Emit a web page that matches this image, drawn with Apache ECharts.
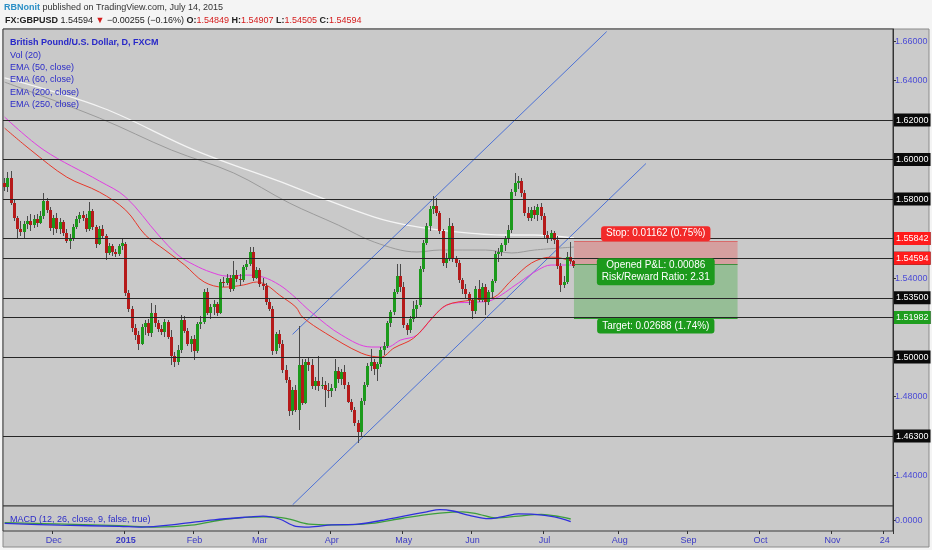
<!DOCTYPE html>
<html><head><meta charset="utf-8">
<script src="https://cdn.jsdelivr.net/npm/echarts@6/dist/echarts.min.js"></script>
<style>html,body{margin:0;padding:0;background:#f4f4f4;}#c{width:932px;height:550px;}</style>
</head><body><div id="c"></div>
<script>
// ---------- calendar ----------
const firstDay = [2014, 10, 10];          // 10 Nov 2014 (month 0-based)
const barCount = 272;
const holidays = ['2014-12-25', '2015-01-01'];
const axisMarks = {
  '2014-12-01': 'Dec', '2015-01-02': '2015', '2015-02-02': 'Feb', '2015-03-02': 'Mar',
  '2015-04-01': 'Apr', '2015-05-01': 'May', '2015-06-01': 'Jun', '2015-07-01': 'Jul',
  '2015-08-03': 'Aug', '2015-09-01': 'Sep', '2015-10-01': 'Oct', '2015-11-02': 'Nov',
  '2015-11-24': '24'
};
// ---------- daily candles [open, close, low, high] from 10 Nov 2014 ----------
const ohlc = [
[1.5880,1.5862,1.5842,1.5905],[1.5862,1.5908,1.5835,1.5935],[1.5908,1.5782,1.5770,1.5940],[1.5782,1.5705,1.5690,1.5795],
[1.5705,1.5648,1.5600,1.5712],[1.5648,1.5632,1.5612,1.5690],[1.5632,1.5675,1.5598,1.5690],[1.5675,1.5690,1.5650,1.5712],
[1.5690,1.5668,1.5640,1.5725],[1.5668,1.5700,1.5655,1.5718],[1.5700,1.5680,1.5660,1.5722],[1.5680,1.5712,1.5672,1.5740],
[1.5712,1.5788,1.5700,1.5830],[1.5788,1.5745,1.5730,1.5805],[1.5745,1.5652,1.5640,1.5760],[1.5652,1.5705,1.5620,1.5718],
[1.5705,1.5650,1.5628,1.5728],[1.5650,1.5685,1.5622,1.5702],[1.5685,1.5628,1.5612,1.5695],[1.5628,1.5590,1.5578,1.5648],
[1.5590,1.5600,1.5545,1.5625],[1.5600,1.5660,1.5588,1.5672],[1.5660,1.5698,1.5648,1.5712],[1.5698,1.5718,1.5680,1.5735],
[1.5718,1.5705,1.5690,1.5740],[1.5705,1.5650,1.5635,1.5725],[1.5650,1.5742,1.5640,1.5787],[1.5742,1.5660,1.5645,1.5752],
[1.5660,1.5575,1.5552,1.5668],[1.5575,1.5650,1.5568,1.5665],[1.5650,1.5612,1.5598,1.5668],[1.5612,1.5525,1.5492,1.5622],
[1.5525,1.5560,1.5515,1.5578],[1.5560,1.5530,1.5512,1.5572],[1.5530,1.5522,1.5505,1.5548],[1.5522,1.5560,1.5512,1.5575],
[1.5560,1.5578,1.5540,1.5602],[1.5575,1.5325,1.5310,1.5585],[1.5325,1.5245,1.5230,1.5340],[1.5245,1.5148,1.5125,1.5260],
[1.5148,1.5110,1.5085,1.5165],[1.5110,1.5068,1.5035,1.5130],[1.5068,1.5150,1.5060,1.5165],[1.5150,1.5175,1.5110,1.5190],
[1.5175,1.5120,1.5105,1.5195],[1.5120,1.5225,1.5100,1.5272],[1.5225,1.5170,1.5150,1.5265],[1.5170,1.5140,1.5125,1.5190],
[1.5140,1.5125,1.5110,1.5160],[1.5125,1.5178,1.5100,1.5195],[1.5178,1.5100,1.5090,1.5190],[1.5100,1.5005,1.4962,1.5135],
[1.5005,1.4975,1.4951,1.5025],[1.4975,1.5035,1.4960,1.5060],[1.5035,1.5190,1.5020,1.5215],[1.5190,1.5130,1.5120,1.5210],
[1.5130,1.5065,1.5055,1.5145],[1.5065,1.5090,1.5025,1.5105],[1.5090,1.5030,1.4985,1.5110],[1.5030,1.5165,1.5020,1.5180],
[1.5165,1.5180,1.5140,1.5210],[1.5180,1.5330,1.5165,1.5345],[1.5330,1.5225,1.5215,1.5350],[1.5225,1.5255,1.5195,1.5270],
[1.5255,1.5270,1.5215,1.5290],[1.5270,1.5225,1.5210,1.5280],[1.5225,1.5380,1.5220,1.5395],[1.5380,1.5375,1.5355,1.5405],
[1.5375,1.5400,1.5365,1.5420],[1.5400,1.5345,1.5330,1.5415],[1.5345,1.5415,1.5335,1.5485],[1.5415,1.5395,1.5380,1.5440],
[1.5395,1.5388,1.5360,1.5420],[1.5388,1.5455,1.5378,1.5465],[1.5455,1.5470,1.5440,1.5490],[1.5470,1.5530,1.5460,1.5556],
[1.5530,1.5400,1.5385,1.5555],[1.5400,1.5440,1.5395,1.5455],[1.5440,1.5370,1.5355,1.5450],[1.5370,1.5360,1.5340,1.5400],
[1.5360,1.5280,1.5265,1.5375],[1.5280,1.5245,1.5235,1.5300],[1.5245,1.5030,1.5010,1.5260],[1.5030,1.5115,1.5015,1.5125],
[1.5115,1.5065,1.5045,1.5135],[1.5065,1.4935,1.4920,1.5085],[1.4935,1.4885,1.4870,1.4960],[1.4885,1.4725,1.4700,1.4900],
[1.4725,1.4835,1.4705,1.4850],[1.4835,1.4730,1.4720,1.4860],[1.4730,1.4960,1.4633,1.5155],[1.4960,1.4770,1.4755,1.4990],
[1.4770,1.4975,1.4760,1.4990],[1.4975,1.4960,1.4930,1.5000],[1.4960,1.4855,1.4840,1.4990],[1.4855,1.4880,1.4835,1.4900],
[1.4880,1.4855,1.4830,1.5005],[1.4855,1.4860,1.4840,1.4900],[1.4860,1.4835,1.4745,1.4880],[1.4835,1.4830,1.4795,1.4870],
[1.4830,1.4845,1.4800,1.4865],[1.4845,1.4930,1.4830,1.4990],[1.4930,1.4890,1.4870,1.4950],[1.4890,1.4925,1.4860,1.4940],
[1.4925,1.4860,1.4840,1.4960],[1.4860,1.4775,1.4765,1.4875],[1.4775,1.4730,1.4720,1.4790],[1.4730,1.4665,1.4650,1.4745],
[1.4665,1.4620,1.4566,1.4680],[1.4620,1.4780,1.4600,1.4795],[1.4780,1.4860,1.4755,1.4875],[1.4860,1.4955,1.4850,1.4970],
[1.4955,1.4975,1.4930,1.5040],[1.4975,1.4940,1.4910,1.4990],[1.4940,1.4965,1.4880,1.4975],[1.4965,1.5035,1.4950,1.5050],
[1.5035,1.5055,1.5010,1.5075],[1.5055,1.5170,1.5045,1.5185],[1.5170,1.5230,1.5150,1.5240],[1.5230,1.5330,1.5215,1.5345],
[1.5330,1.5410,1.5320,1.5470],[1.5410,1.5355,1.5330,1.5470],[1.5355,1.5160,1.5145,1.5380],[1.5160,1.5135,1.5110,1.5175],
[1.5135,1.5195,1.5120,1.5210],[1.5195,1.5245,1.5180,1.5285],[1.5245,1.5265,1.5205,1.5290],[1.5265,1.5445,1.5255,1.5460],
[1.5445,1.5580,1.5430,1.5595],[1.5580,1.5665,1.5565,1.5680],[1.5665,1.5750,1.5640,1.5765],[1.5750,1.5765,1.5725,1.5815],
[1.5765,1.5730,1.5715,1.5805],[1.5730,1.5640,1.5625,1.5740],[1.5640,1.5475,1.5460,1.5650],[1.5475,1.5495,1.5450,1.5525],
[1.5495,1.5665,1.5485,1.5705],[1.5665,1.5500,1.5480,1.5680],[1.5500,1.5475,1.5455,1.5510],[1.5475,1.5390,1.5375,1.5490],
[1.5390,1.5345,1.5320,1.5400],[1.5345,1.5320,1.5300,1.5370],[1.5320,1.5290,1.5265,1.5330],[1.5290,1.5235,1.5192,1.5300],
[1.5235,1.5345,1.5220,1.5360],[1.5345,1.5290,1.5280,1.5390],[1.5290,1.5355,1.5280,1.5375],[1.5355,1.5280,1.5215,1.5370],
[1.5280,1.5330,1.5265,1.5340],[1.5330,1.5385,1.5300,1.5395],[1.5385,1.5520,1.5375,1.5535],[1.5520,1.5530,1.5480,1.5550],
[1.5530,1.5565,1.5510,1.5580],[1.5565,1.5600,1.5535,1.5615],[1.5600,1.5645,1.5580,1.5670],[1.5645,1.5835,1.5630,1.5850],
[1.5835,1.5880,1.5815,1.5930],[1.5880,1.5890,1.5850,1.5915],[1.5890,1.5830,1.5810,1.5905],[1.5830,1.5730,1.5715,1.5845],
[1.5730,1.5705,1.5690,1.5760],[1.5705,1.5745,1.5690,1.5760],[1.5745,1.5720,1.5700,1.5765],[1.5720,1.5760,1.5690,1.5775],
[1.5760,1.5715,1.5695,1.5780],[1.5715,1.5620,1.5605,1.5730],[1.5620,1.5605,1.5580,1.5640],[1.5605,1.5630,1.5590,1.5645],
[1.5630,1.5595,1.5575,1.5640],[1.5595,1.5460,1.5445,1.5612],[1.5460,1.5365,1.5331,1.5475],[1.5365,1.5380,1.5350,1.5412],
[1.5380,1.5508,1.5370,1.5530],[1.5508,1.5485,1.5470,1.5584],[1.54849,1.54594,1.54505,1.54907]
];
// ---------- moving averages (bar index, value) ----------
const ema50Bars = [0,8,19,29,37,43,49,55,61,67,73,77,80,84,89,91,98,109,115,119,125,131,135,143,149,155,161,167,170,174];
const ema50Vals = [1.6159,1.6048,1.5911,1.5835,1.5744,1.5618,1.5542,1.5466,1.5380,1.5354,1.5365,1.5380,1.5365,1.5314,1.5253,1.5203,1.5122,1.5020,1.5000,1.5046,1.5096,1.5203,1.5263,1.5289,1.5299,1.5390,1.5476,1.5506,1.5501,1.5481];
const ema60Bars = [0,12,29,37,47,53,58,63,68,74,79,84,88,94,103,112,117,121,126,132,137,144,149,157,163,167,174];
const ema60Vals = [1.6215,1.6048,1.5891,1.5810,1.5618,1.5516,1.5466,1.5430,1.5410,1.5415,1.5405,1.5365,1.5314,1.5223,1.5111,1.5051,1.5051,1.5086,1.5111,1.5223,1.5273,1.5278,1.5289,1.5375,1.5441,1.5466,1.5466];
const ema200Bars = [0,29,51,70,87,102,113,126,133,147,155,162,174];
const ema200Vals = [1.6392,1.6210,1.6048,1.5932,1.5780,1.5668,1.5582,1.5532,1.5542,1.5542,1.5527,1.5542,1.5557];
const ema250Bars = [0,30,58,87,97,113,123,133,142,152,162,174];
const ema250Vals = [1.6413,1.6261,1.6048,1.5871,1.5805,1.5709,1.5668,1.5643,1.5628,1.5618,1.5618,1.5603];
// ---------- MACD (bar index, value) ----------
const macdBars = [0,17,35,42,53,64,75,79,84,89,93,100,108,115,122,129,133,137,142,148,153,157,162,168,173];
const macdVals = [-0.0029,-0.0047,-0.0058,-0.0066,-0.0036,0.0007,0.0036,0.0044,0.0015,-0.0058,-0.0066,-0.0044,-0.0036,0,0.0044,0.0087,0.0109,0.0095,0.0051,0.0018,0.0044,0.0066,0.0062,0.0036,-0.0011];
const signalBars = [0,35,46,57,68,79,86,93,100,112,122,133,140,145,150,157,164,170,173];
const signalVals = [-0.0022,-0.0051,-0.0066,-0.0047,0.0015,0.0036,0.0022,-0.0036,-0.0044,-0.0029,0.0025,0.0073,0.0087,0.0062,0.0025,0.0044,0.0062,0.0036,0.0015];
// ---------- drawings ----------
const channelUpper = [[88, 1.5115], [184, 1.6648]];
const channelLower = [[88, 1.4252], [196, 1.5980]];
const levelLines = [1.62, 1.60, 1.58, 1.56, 1.55, 1.535, 1.52, 1.50, 1.463];
const priceTicks = [1.44, 1.46, 1.48, 1.50, 1.52, 1.54, 1.56, 1.58, 1.60, 1.62, 1.64, 1.66];
const stopPrice = 1.55842, entryPrice = 1.5468, targetPrice = 1.51982, lastPrice = 1.54594;
const boxStartBar = 174, boxEndBar = 224, boxLabelBar = 199;
const stopText = 'Stop: 0.01162 (0.75%)';
const pnlText = 'Opened P&L: 0.00086\nRisk/Reward Ratio: 2.31';
const targetText = 'Target: 0.02688 (1.74%)';
const legendLines = ['Vol (20)', 'EMA (50, close)', 'EMA (60, close)', 'EMA (200, close)', 'EMA (250, close)'];

// ---------- build ----------
function buildDates() {
  const out = [];
  const d = new Date(Date.UTC(firstDay[0], firstDay[1], firstDay[2]));
  while (out.length < barCount) {
    const wd = d.getUTCDay();
    const s = d.toISOString().slice(0, 10);
    if (wd !== 0 && wd !== 6 && holidays.indexOf(s) < 0) out.push(s);
    d.setUTCDate(d.getUTCDate() + 1);
  }
  return out;
}
const dates = buildDates();
const zip = (a, b) => a.map((x, i) => [x, b[i]]);
const candleData = ohlc.map((r, i) => [i, r[0], r[1], r[2], r[3]]);
const FONT = '"Liberation Sans", Arial, sans-serif';
const isMark = (i, v) => Object.prototype.hasOwnProperty.call(axisMarks, v);
const CLEAR = 'rgba(0,0,0,0)';

const chart = echarts.init(document.getElementById('c'), null, {renderer: 'canvas'});

function emaSeries(bars, vals, color, w) {
  return {type: 'line', xAxisIndex: 0, yAxisIndex: 0, data: zip(bars, vals), smooth: 0.35,
    showSymbol: false, symbol: 'none', clip: true, silent: true,
    lineStyle: {color: color, width: w}, z: 3};
}

const levelMark = levelLines.map(v => ({
  yAxis: v, lineStyle: {color: '#262626', width: 1, type: 'solid'},
  label: {formatter: v.toFixed(5), backgroundColor: '#0a0a0a', color: '#ffffff'}
}));
const priceMark = [
  {yAxis: stopPrice, lineStyle: {color: CLEAR, width: 1}, label: {formatter: stopPrice.toFixed(5), backgroundColor: '#ff1c1c', color: '#fff'}},
  {yAxis: lastPrice, lineStyle: {color: CLEAR, width: 1}, label: {formatter: lastPrice.toFixed(5), backgroundColor: '#ff1c1c', color: '#fff'}},
  {yAxis: targetPrice, lineStyle: {color: CLEAR, width: 1}, label: {formatter: targetPrice.toFixed(5), backgroundColor: '#1f9e1f', color: '#fff'}}
];
const edgeMark = [
  [{coord: [boxStartBar, stopPrice], lineStyle: {color: '#d86a6a', width: 1, type: 'solid'}, label: {show: false}}, {coord: [boxEndBar, stopPrice]}],
  [{coord: [boxStartBar, entryPrice], lineStyle: {color: '#3e8e3e', width: 1, type: 'solid'}, label: {show: false}}, {coord: [boxEndBar, entryPrice]}],
  [{coord: [boxStartBar, targetPrice], lineStyle: {color: '#2e9e2e', width: 1, type: 'solid'}, label: {show: false}}, {coord: [boxEndBar, targetPrice]}]
];

const option = {
  animation: false,
  backgroundColor: '#f4f4f4',
  textStyle: {fontFamily: FONT},
  grid: [
    {left: 3, right: 39, top: 29, height: 477, show: true, borderColor: '#3a3a3a', borderWidth: 1, backgroundColor: '#c9c9c9'},
    {left: 3, right: 39, top: 506, height: 25, show: true, borderColor: '#3a3a3a', borderWidth: 1, backgroundColor: '#c9c9c9'}
  ],
  xAxis: [
    {type: 'category', gridIndex: 0, data: dates, boundaryGap: true,
      axisLine: {show: false, onZero: false}, axisTick: {show: false}, axisLabel: {show: false}, splitLine: {show: false}},
    {type: 'category', gridIndex: 1, data: dates, boundaryGap: true, position: 'bottom',
      axisLine: {show: false, onZero: false},
      axisTick: {show: true, interval: isMark, length: 3, lineStyle: {color: '#333'}},
      axisLabel: {interval: isMark, margin: 5, color: '#3b3bc4', fontSize: 9, fontFamily: FONT,
        formatter: v => axisMarks[v] === '2015' ? '{y|2015}' : (axisMarks[v] || ''),
        rich: {y: {fontWeight: 'bold', color: '#3b3bc4', fontSize: 9, fontFamily: FONT}}},
      splitLine: {show: false}}
  ],
  yAxis: [
    {type: 'value', gridIndex: 0, position: 'right', min: 1.4246, max: 1.6661,
      splitLine: {show: false},
      axisLine: {show: true, lineStyle: {color: '#333'}},
      axisTick: {show: true, customValues: priceTicks, length: 3, lineStyle: {color: '#333'}},
      axisLabel: {customValues: priceTicks, formatter: v => v.toFixed(5), color: '#4c4cd6', fontSize: 9, margin: 2, fontFamily: FONT}},
    {type: 'value', gridIndex: 1, position: 'right', min: -0.0105, max: 0.0145,
      splitLine: {show: false},
      axisLine: {show: true, lineStyle: {color: '#333'}},
      axisTick: {show: true, customValues: [0], length: 3, lineStyle: {color: '#333'}},
      axisLabel: {customValues: [0], formatter: () => '0.0000', color: '#4c4cd6', fontSize: 9, margin: 2, fontFamily: FONT}}
  ],
  series: [
    emaSeries(ema250Bars, ema250Vals, '#f4f4f4', 1.3),
    emaSeries(ema200Bars, ema200Vals, '#9b9b9b', 1),
    {type: 'line', name: 'levels', xAxisIndex: 0, yAxisIndex: 0, data: [], silent: true, z: 2,
      markArea: {silent: true, data: [
        [{coord: [boxStartBar, entryPrice], itemStyle: {color: 'rgba(235,85,85,0.36)'}}, {coord: [boxEndBar, stopPrice]}],
        [{coord: [boxStartBar, targetPrice], itemStyle: {color: 'rgba(60,172,60,0.36)'}}, {coord: [boxEndBar, entryPrice]}]
      ]},
      markLine: {silent: true, symbol: 'none', animation: false,
        label: {show: true, position: 'end', distance: 1, fontSize: 9, fontFamily: FONT, padding: [2, 2, 1, 2], lineHeight: 10},
        data: levelMark.concat(edgeMark).concat(priceMark)}},
    {type: 'line', xAxisIndex: 0, yAxisIndex: 0, data: channelUpper, showSymbol: false, symbol: 'none', clip: true,
      lineStyle: {color: '#4d72d6', width: 1}, silent: true, z: 3},
    {type: 'line', xAxisIndex: 0, yAxisIndex: 0, data: channelLower, showSymbol: false, symbol: 'none', clip: true,
      lineStyle: {color: '#4d72d6', width: 1}, silent: true, z: 3},
    emaSeries(ema60Bars, ema60Vals, '#e23ee2', 1),
    emaSeries(ema50Bars, ema50Vals, '#e8372a', 1),
    {type: 'custom', xAxisIndex: 0, yAxisIndex: 0, data: candleData, clip: true, z: 4,
      encode: {x: 0, y: [1, 2, 3, 4]},
      renderItem: function (params, api) {
        const i = api.value(0), o = api.value(1), c = api.value(2), l = api.value(3), h = api.value(4);
        const pTop = api.coord([i, Math.max(o, c)]), pBot = api.coord([i, Math.min(o, c)]);
        const pH = api.coord([i, h]), pL = api.coord([i, l]);
        const cx = Math.floor(pTop[0]);
        const yh = Math.round(pH[1]), yl = Math.round(pL[1]);
        const y1 = Math.round(pTop[1]);
        const y2 = Math.max(Math.round(pBot[1]), y1 + 1);
        return {type: 'group', children: [
          {type: 'rect', shape: {x: cx, y: yh, width: 1, height: Math.max(1, yl - yh)}, style: {fill: '#4a4a4a'}},
          {type: 'rect', shape: {x: cx - 1, y: y1, width: 3, height: y2 - y1}, style: {fill: c >= o ? '#1c9a1c' : '#b51a1a'}}
        ]};
      }},
    {type: 'line', xAxisIndex: 1, yAxisIndex: 1, data: zip(signalBars, signalVals), smooth: 0.35, showSymbol: false,
      symbol: 'none', lineStyle: {color: '#3c9e3c', width: 1.3}, silent: true},
    {type: 'line', xAxisIndex: 1, yAxisIndex: 1, data: zip(macdBars, macdVals), smooth: 0.35, showSymbol: false,
      symbol: 'none', lineStyle: {color: '#2f2fdc', width: 1.3}, silent: true}
  ]
};
chart.setOption(option);

// ---------- texts ----------
const graphics = [
  {type: 'rect', z: -100, silent: true, shape: {x: 3, y: 29, width: 926, height: 518}, style: {fill: '#cbcbcb', stroke: '#8a8a8a'}},
  {type: 'text', z: 100, x: 4, y: 8, style: {text: '{a|RBNonit} published on TradingView.com, July 14, 2015',
    fill: '#333', font: '9px ' + FONT, verticalAlign: 'middle',
    rich: {a: {fill: '#2b8fc6', fontWeight: 'bold', fontSize: 9, fontFamily: FONT}}}},
  {type: 'text', z: 100, x: 5, y: 21, style: {
    text: '{b|FX:GBPUSD} 1.54594 {r|▼} \u22120.00255 (\u22120.16%) {b|O:}{r|1.54849} {b|H:}{r|1.54907} {b|L:}{r|1.54505} {b|C:}{r|1.54594}',
    fill: '#222', font: '9px ' + FONT, verticalAlign: 'middle',
    rich: {b: {fontWeight: 'bold', fill: '#222', fontSize: 9, fontFamily: FONT}, r: {fill: '#d41c1c', fontSize: 9, fontFamily: FONT}}}},
  {type: 'text', z: 100, x: 10, y: 43, style: {text: 'British Pound/U.S. Dollar, D, FXCM', fill: '#2828c8',
    font: 'bold 9px ' + FONT, verticalAlign: 'middle'}},
  {type: 'text', z: 100, x: 10, y: 520, style: {text: 'MACD (12, 26, close, 9, false, true)', fill: '#2b2bc8',
    font: '9px ' + FONT, verticalAlign: 'middle'}}
];
legendLines.forEach((t, k) => graphics.push({type: 'text', z: 100, x: 10, y: 55.5 + k * 12.2,
  style: {text: t, fill: '#2b2bc8', font: '9px ' + FONT, verticalAlign: 'middle'}}));

function tag(bar, price, text, color, dy) {
  const p = chart.convertToPixel({gridIndex: 0}, [bar, price]);
  return {type: 'text', z: 100, x: p[0], y: p[1] + (dy || 0), style: {text: text, fill: '#fff', font: '10px ' + FONT,
    align: 'center', verticalAlign: 'middle', backgroundColor: color, padding: [2, 5, 1, 5], borderRadius: 3, lineHeight: 12}};
}
graphics.push(tag(boxLabelBar, stopPrice, stopText, '#f22a2a', -8));
graphics.push(tag(boxLabelBar, entryPrice, pnlText, '#1c9a1c', 7));
graphics.push(tag(boxLabelBar, targetPrice, targetText, '#1c9a1c', 8));
chart.setOption({graphic: graphics});
</script></body></html>
